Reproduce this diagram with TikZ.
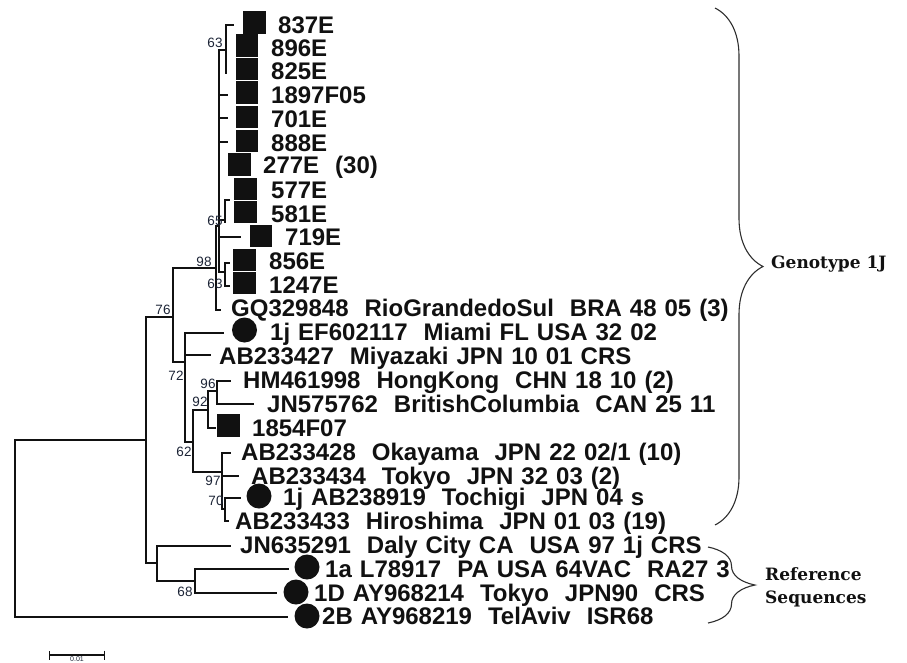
\documentclass[tikz,border=0pt]{standalone}
\usepackage{fontspec}
\usepackage{xcolor}
\usetikzlibrary{arrows.meta,positioning,decorations.pathreplacing}
\newfontfamily\arialfam{Liberation Sans}[WordSpace=1.2]
\newfontfamily\bookfam{DejaVu Serif}
\definecolor{ink}{HTML}{111111}
\definecolor{bootink}{HTML}{1C2436}
\definecolor{braceink}{HTML}{2E2E2E}
\tikzset{
  branch/.style={draw=ink,line width=1.5pt,line cap=rect},
  sqmark/.style={rectangle,fill=ink,minimum size=22.5pt,inner sep=0pt},
  dotmark/.style={circle,fill=ink,minimum size=25pt,inner sep=0pt},
  leaflab/.style={anchor=base west,inner sep=0pt,text=ink,
                  font=\arialfam\bfseries\fontsize{24}{28}\selectfont},
  boot/.style={inner sep=0pt,text=bootink,
               font=\arialfam\fontsize{13.5}{15}\selectfont},
  grpbrace/.style={decorate,decoration={brace,amplitude=#1},
                   line width=1.1pt,draw=braceink},
  grplab/.style={inner sep=0pt,align=left,text=ink,
                 font=\bookfam\bfseries\fontsize{17}{23}\selectfont},
  scalebar/.style={{Bar[width=9pt]}-{Bar[width=9pt]},line width=1.1pt,draw=ink}
}

\begin{document}
\begin{tikzpicture}[x=1pt,y=-1pt]
    \path[use as bounding box,clip] (0,0) rectangle (907,662);

    % internal nodes of the tree
    \foreach \nm/\nx/\ny in {root/15/528, nIn/146/440, n76/173/317,
        n98/216/268, nCore/219/226, n63a/226/50, n65/225/220, n63b/225/272,
        n72/185/362, n62/193/442, n92/208/410, n96/217/391, n97/222/472,
        n70/225/509, nRef/157/563, n68/195/581}
      \coordinate (\nm) at (\nx,\ny);

    % branch tips
    \foreach \nm/\nx/\ny in {t837/233/25, t896/226/47, t825/226/73,
        t1897/227/95, t701/227/118, t888/227/142, t277/219/165,
        t577/229/200, t581/225/222, t719/240/237, t856/229/263,
        t1247/229/286, tGQ/220/310, tEF/223/333, t427/210/355,
        tHM/230/381, tJN57/253/404, t1854/215/428, t428/230/453,
        t434/238/476, t919/240/498, t433/228/521, tJN63/230/546,
        t1a/288/569, t1D/276/593, t2B/287/617}
      \coordinate (\nm) at (\nx,\ny);

    \foreach \pa/\ch in {root/nIn, root/t2B, nIn/n76, nIn/nRef,
        n76/n98, n76/n72, n98/nCore, n98/tGQ,
        nCore/n63a, nCore/t1897, nCore/t701, nCore/t888, nCore/t277,
        nCore/n65, nCore/t719, nCore/n63b,
        n63a/t837, n63a/t896, n63a/t825, n65/t577, n65/t581,
        n63b/t856, n63b/t1247, n72/tEF, n72/t427, n72/n62,
        n62/n92, n62/n97, n92/n96, n92/t1854, n96/tHM, n96/tJN57,
        n97/t428, n97/t434, n97/n70, n70/t919, n70/t433,
        nRef/tJN63, nRef/n68, n68/t1a, n68/t1D}
      \draw[branch] (\pa) |- (\ch);

    % leaves with a square
    \foreach \id/\mx/\my/\lx/\ly/\txt in {
        837/254.5/22.5/278/33/837E,
        896/247/45.5/271/56/896E,
        825/247/69/271/79/825E,
        1897/247/92.5/271/103/1897F05,
        701/247/117/271/127/701E,
        888/247/141/271/151/888E,
        277/239.5/164.5/263/173/{277E~~(30)},
        577/245.5/189/271/198/577E,
        581/245.5/212/271/222/581E,
        719/261/236/285/245/719E,
        856/244.5/260/269/269/856E,
        1247/244.5/283/269/293/1247E,
        1854/228.5/425.5/252/436/1854F07}{
      \node[sqmark] (m\id) at (\mx,\my) {};
      \node[leaflab] (l\id) at (\lx,\ly) {\txt};
    }

    % leaves with a dot
    \foreach \id/\mx/\my/\lx/\ly/\txt in {
        EF/244.5/330/270/340/{1j EF602117~~Miami FL USA 32 02},
        919/259/496/283/505/{1j AB238919~~Tochigi~~JPN 04 s},
        1a/307/567/325/577/{1a L78917~~PA USA 64VAC~~RA27 3},
        1D/296/592/314/601/{1D AY968214~~Tokyo~~JPN90~~CRS},
        2B/307/616/322/624/{2B AY968219~~TelAviv~~ISR68}}{
      \node[dotmark] (m\id) at (\mx,\my) {};
      \node[leaflab] (l\id) at (\lx,\ly) {\txt};
    }

    % plain leaves
    \foreach \id/\lx/\ly/\txt in {
        GQ/231/316/{GQ329848~~RioGrandedoSul~~BRA 48 05 (3)},
        427/219/364/{AB233427~~Miyazaki JPN 10 01 CRS},
        HM/243/388/{HM461998~~HongKong~~CHN 18 10 (2)},
        JN57/267/412/{JN575762~~BritishColumbia~~CAN 25 11},
        428/241/460/{AB233428~~Okayama~~JPN 22 02/1 (10)},
        434/251/484/{AB233434~~Tokyo~~JPN 32 03 (2)},
        433/235/529/{AB233433~~Hiroshima~~JPN 01 03 (19)},
        JN63/240/553/{JN635291~~Daly City CA~~USA 97 1j CRS}}
      \node[leaflab] (l\id) at (\lx,\ly) {\txt};

    % bootstrap values
    \foreach \id/\bx/\by/\bv in {63a/215/43/63, 65/215/221/65, 98/204/262/98,
        63b/215/284/63, 76/163/310/76, 72/176/376/72, 96/208/384/96,
        92/200/402/92, 62/184/452/62, 97/213/481/97, 70/216/501/70,
        68/185/592/68}
      \node[boot] (b\id) at (\bx,\by) {\bv};

    % groups
    \coordinate (gTop) at (715,8);
    \coordinate (gBot) at (715,525);
    \draw[grpbrace=48pt] (gTop) -- (gBot);
    \node[grplab,anchor=base west] (gLab) at (771,268) {Genotype 1J};

    \coordinate (rTop) at (708,547);
    \coordinate (rBot) at (708,623);
    \draw[grpbrace=47pt] (rTop) -- (rBot);
    \node[grplab,anchor=west] (rLab) at (765,587) {Reference\\Sequences};

    % scale
    \coordinate (sL) at (49,655);
    \coordinate (sR) at (105,655);
    \draw[scalebar] (sL) -- (sR);
    \node[boot,anchor=south,font=\arialfam\fontsize{7}{8}\selectfont]
      (sLab) at (77,661.5) {0.01};
  \end{tikzpicture}
\end{document}
